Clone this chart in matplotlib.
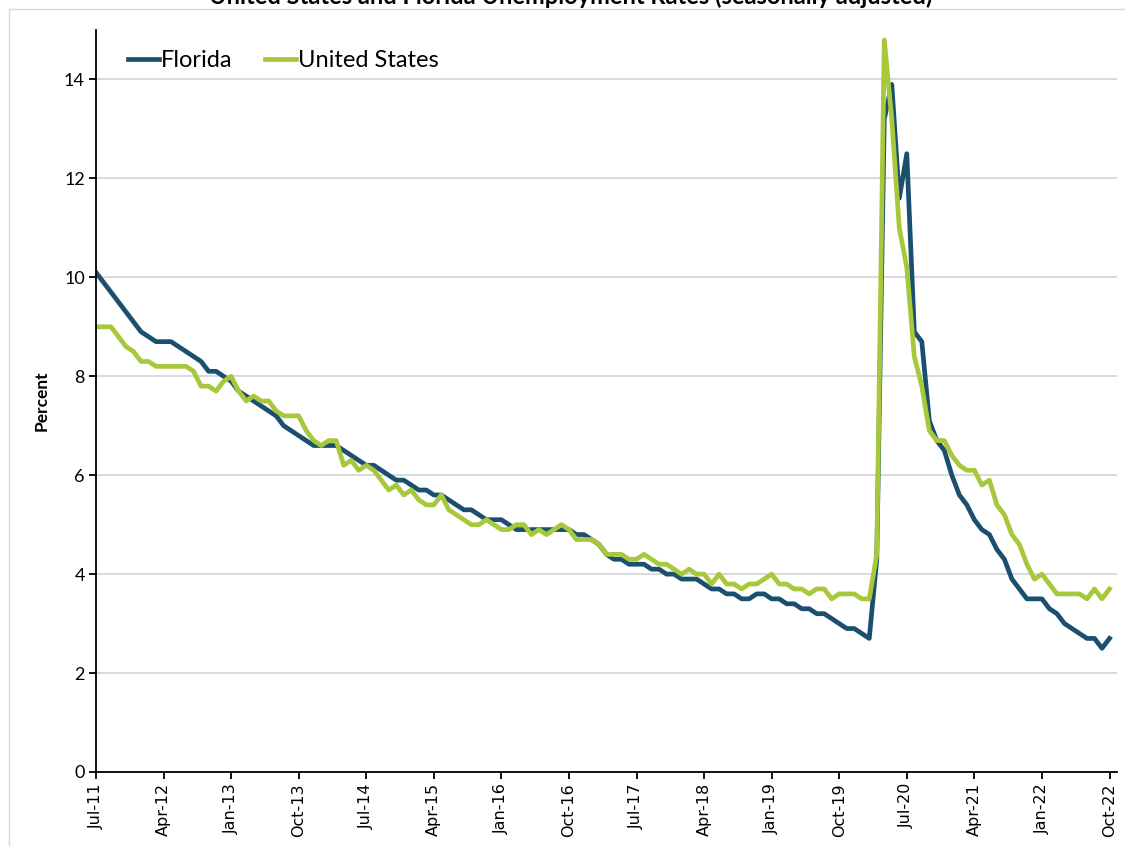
import numpy as np
import pandas as pd
import matplotlib
matplotlib.use("Agg")
import matplotlib.pyplot as plt
from matplotlib.lines import Line2D

# monthly, Jul 2011 - Oct 2022 (seasonally adjusted, percent)
months = pd.date_range("2011-07-01", "2022-10-01", freq="MS")

florida = [
    10.1, 9.9, 9.7, 9.5, 9.3, 9.1,                                # 2011
    8.9, 8.8, 8.7, 8.7, 8.7, 8.6, 8.5, 8.4, 8.3, 8.1, 8.1, 8.0,   # 2012
    7.9, 7.7, 7.6, 7.5, 7.4, 7.3, 7.2, 7.0, 6.9, 6.8, 6.7, 6.6,   # 2013
    6.6, 6.6, 6.6, 6.5, 6.4, 6.3, 6.2, 6.2, 6.1, 6.0, 5.9, 5.9,   # 2014
    5.8, 5.7, 5.7, 5.6, 5.6, 5.5, 5.4, 5.3, 5.3, 5.2, 5.1, 5.1,   # 2015
    5.1, 5.0, 4.9, 4.9, 4.9, 4.9, 4.9, 4.9, 4.9, 4.9, 4.8, 4.8,   # 2016
    4.7, 4.6, 4.4, 4.3, 4.3, 4.2, 4.2, 4.2, 4.1, 4.1, 4.0, 4.0,   # 2017
    3.9, 3.9, 3.9, 3.8, 3.7, 3.7, 3.6, 3.6, 3.5, 3.5, 3.6, 3.6,   # 2018
    3.5, 3.5, 3.4, 3.4, 3.3, 3.3, 3.2, 3.2, 3.1, 3.0, 2.9, 2.9,   # 2019
    2.8, 2.7, 4.3, 13.2, 13.9, 11.6, 12.5, 8.9, 8.7, 7.1, 6.7, 6.5,  # 2020
    6.0, 5.6, 5.4, 5.1, 4.9, 4.8, 4.5, 4.3, 3.9, 3.7, 3.5, 3.5,   # 2021
    3.5, 3.3, 3.2, 3.0, 2.9, 2.8, 2.7, 2.7, 2.5, 2.7,             # 2022
]

united_states = [
    9.0, 9.0, 9.0, 8.8, 8.6, 8.5,
    8.3, 8.3, 8.2, 8.2, 8.2, 8.2, 8.2, 8.1, 7.8, 7.8, 7.7, 7.9,
    8.0, 7.7, 7.5, 7.6, 7.5, 7.5, 7.3, 7.2, 7.2, 7.2, 6.9, 6.7,
    6.6, 6.7, 6.7, 6.2, 6.3, 6.1, 6.2, 6.1, 5.9, 5.7, 5.8, 5.6,
    5.7, 5.5, 5.4, 5.4, 5.6, 5.3, 5.2, 5.1, 5.0, 5.0, 5.1, 5.0,
    4.9, 4.9, 5.0, 5.0, 4.8, 4.9, 4.8, 4.9, 5.0, 4.9, 4.7, 4.7,
    4.7, 4.6, 4.4, 4.4, 4.4, 4.3, 4.3, 4.4, 4.3, 4.2, 4.2, 4.1,
    4.0, 4.1, 4.0, 4.0, 3.8, 4.0, 3.8, 3.8, 3.7, 3.8, 3.8, 3.9,
    4.0, 3.8, 3.8, 3.7, 3.7, 3.6, 3.7, 3.7, 3.5, 3.6, 3.6, 3.6,
    3.5, 3.5, 4.4, 14.8, 13.2, 11.0, 10.2, 8.4, 7.8, 6.9, 6.7, 6.7,
    6.4, 6.2, 6.1, 6.1, 5.8, 5.9, 5.4, 5.2, 4.8, 4.6, 4.2, 3.9,
    4.0, 3.8, 3.6, 3.6, 3.6, 3.6, 3.5, 3.7, 3.5, 3.7,
]

yticks = [0, 2, 4, 6, 8, 10, 12, 14]
fl_color = "#1b4f70"
us_color = "#a8c83b"

x = np.arange(len(months))

fig = plt.figure(figsize=(11.25, 8.46), dpi=100)
ax = fig.add_axes([0.0853, 0.0875, 0.9076, 0.877])

ax.plot(x, florida, color=fl_color, lw=3.4, label="Florida", solid_joinstyle="round")
ax.plot(x, united_states, color=us_color, lw=3.4, label="United States", solid_joinstyle="round")

ax.set_xlim(0, 136)
ax.set_ylim(0, 15)
ax.set_yticks(yticks)
ax.set_yticklabels([str(v) for v in yticks], fontfamily="Lato", fontsize=13)

tick_pos = x[::9]
ax.set_xticks(tick_pos)
ax.set_xticklabels([months[i].strftime("%b-%y") for i in tick_pos],
                   rotation=90, fontfamily="DejaVu Sans", fontsize=11.5)

ax.grid(axis="y", color="#d9d9d9", lw=1.4)
ax.set_axisbelow(True)
for s in ["top", "right"]:
    ax.spines[s].set_visible(False)
for s in ["left", "bottom"]:
    ax.spines[s].set_linewidth(1.3)
ax.tick_params(axis="both", direction="out", length=5, width=1.3, pad=3)

ax.set_ylabel("Percent", fontfamily="Lato", fontweight="bold", fontsize=12.5, labelpad=10)

ax.legend(loc="upper left", bbox_to_anchor=(0.015, 0.995), ncol=2, frameon=False,
          prop={"family": "Lato", "size": 17}, handlelength=1.3, handletextpad=0.1,
          columnspacing=1.4, borderaxespad=0.3)

fig.text(0.507, 0.9955, "United States and Florida Unemployment Rates (seasonally adjusted)",
         ha="center", va="baseline", fontfamily="Lato", fontweight="bold", fontsize=17)

# light frame around the chart area
fig.add_artist(Line2D([8.6 / 1125, 1.0], [1 - 9.3 / 846] * 2, transform=fig.transFigure,
                      color="#d9d9d9", lw=1))
fig.add_artist(Line2D([8.6 / 1125] * 2, [0.0, 1 - 9.3 / 846], transform=fig.transFigure,
                      color="#d9d9d9", lw=1))

fig.savefig("out.png", dpi=100)
